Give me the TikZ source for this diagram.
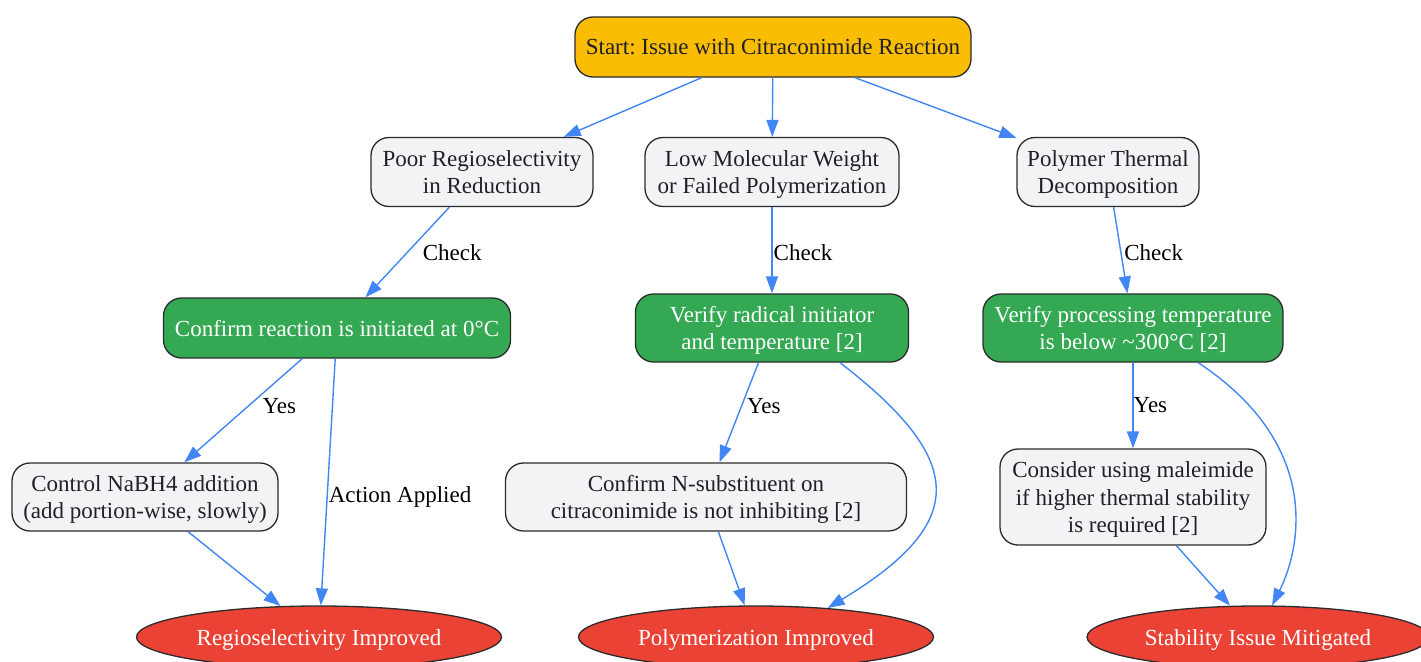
\documentclass[tikz,border=0pt]{standalone}
\usepackage{fontspec}
\setmainfont{Liberation Serif}
\frenchspacing
\usetikzlibrary{shapes.geometric,positioning,arrows.meta}
\definecolor{startyellow}{HTML}{FBBC04}
\definecolor{boxgray}{HTML}{F1F3F4}
\definecolor{checkgreen}{HTML}{34A853}
\definecolor{endred}{HTML}{EA4335}
\definecolor{flowblue}{HTML}{4285F4}
\definecolor{rimgray}{HTML}{2B2B2B}
\definecolor{inkgray}{HTML}{202124}
\newcommand{\tallstrut}{\rule[-6pt]{0pt}{28pt}}

\begin{document}
\begin{tikzpicture}[x=1pt, y=-1pt, >={Triangle[length=17pt,width=12pt]},
    box/.style={draw=rimgray, line width=1.3pt, rounded corners=18pt, align=center, inner sep=0pt,
        fill=boxgray, text=inkgray, font=\fontsize{23}{27.5}\selectfont,
        execute at begin node=\tallstrut, execute at end node=\tallstrut},
    checkbox/.style={box, fill=checkgreen, text=white},
    endnode/.style={draw=rimgray, line width=1.3pt, ellipse, inner sep=0pt, fill=endred, text=white,
        font=\fontsize{23}{27.5}\selectfont, execute at begin node=\tallstrut},
    flow/.style={->, draw=flowblue, line width=1.4pt},
    lbl/.style={inner sep=0pt, text=black, font=\fontsize{23}{27.5}\selectfont}]
    \useasboundingbox (0,0) rectangle (1421,661);

    % top and first level
    \node [box, fill=startyellow, minimum width=396pt, minimum height=60pt] (start) at (773,47) {Start: Issue with Citraconimide Reaction};
    \node [box, minimum width=222pt, minimum height=69pt] (regio) at (482,172) {\tallstrut Poor Regioselectivity\\in Reduction};
    \node [box, minimum width=254pt, minimum height=69pt] (lowmw) at (772,172) {\tallstrut Low Molecular Weight\\or Failed Polymerization};
    \node [box, minimum width=182pt, minimum height=69pt] (decomp) at (1108,172) {\tallstrut Polymer Thermal\\Decomposition};

    % checks
    \node [checkbox, minimum width=347pt, minimum height=60pt] (zerodeg) at (337,328) {Confirm reaction is initiated at 0°C};
    \node [checkbox, minimum width=273pt, minimum height=68pt] (initiator) at (772,328) {\tallstrut Verify radical initiator\\and temperature [2]};
    \node [checkbox, minimum width=300pt, minimum height=68pt] (proctemp) at (1133,328) {\tallstrut Verify processing temperature\\is below \textasciitilde300°C [2]};

    % actions
    \node [box, minimum width=266pt, minimum height=68pt] (nabh) at (145,497) {\tallstrut Control NaBH4 addition\\(add portion-wise, slowly)};
    \node [box, minimum width=401pt, minimum height=68pt] (subst) at (706,497) {\tallstrut Confirm N-substituent on\\citraconimide is not inhibiting [2]};
    \node [box, minimum width=266pt, minimum height=96pt] (maleimide) at (1133,497) {\tallstrut Consider using maleimide\\if higher thermal stability\\is required [2]};

    % outcomes
    \node [endnode, minimum width=365pt, minimum height=62pt] (regiook) at (319,637) {Regioselectivity Improved};
    \node [endnode, minimum width=355pt, minimum height=62pt] (polyok) at (756,637) {Polymerization Improved};
    \node [endnode, minimum width=342pt, minimum height=62pt] (stabok) at (1258,637) {Stability Issue Mitigated};

    \draw [flow] (start) -- (regio);
    \draw [flow] (start) -- (lowmw);
    \draw [flow] (start) -- (decomp);
    \draw [flow] (regio) -- node [lbl, pos=0.48, right=13pt, yshift=-2pt] (chka) {Check} (zerodeg);
    \draw [flow] (lowmw) -- node [lbl, pos=0.5, right=1pt, yshift=-2pt] (chkb) {Check} (initiator);
    \draw [flow] (decomp) -- node [lbl, pos=0.5, right=3pt, yshift=-2pt] (chkc) {Check} (proctemp);
    \draw [flow] (zerodeg) -- node [lbl, pos=0.46, right=14pt] (yesa) {Yes} (nabh);
    \draw [flow] (zerodeg) -- node [lbl, pos=0.56, right=1pt] (applied) {Action Applied} (regiook);
    \draw [flow] (nabh) -- (regiook);
    \draw [flow] (initiator) -- node [lbl, pos=0.44, right=5pt] (yesb) {Yes} (subst);
    \draw [flow] (initiator.-27) .. controls (966,460) and (970,522) .. (polyok.22);
    \draw [flow] (subst) -- (polyok);
    \draw [flow] (proctemp) -- node [lbl, pos=0.5, right=0pt] (yesc) {Yes} (maleimide);
    \draw [flow] (proctemp.-28) .. controls (1327,448) and (1298,554) .. (stabok.66);
    \draw [flow] (maleimide) -- (stabok);
\end{tikzpicture}
\end{document}
